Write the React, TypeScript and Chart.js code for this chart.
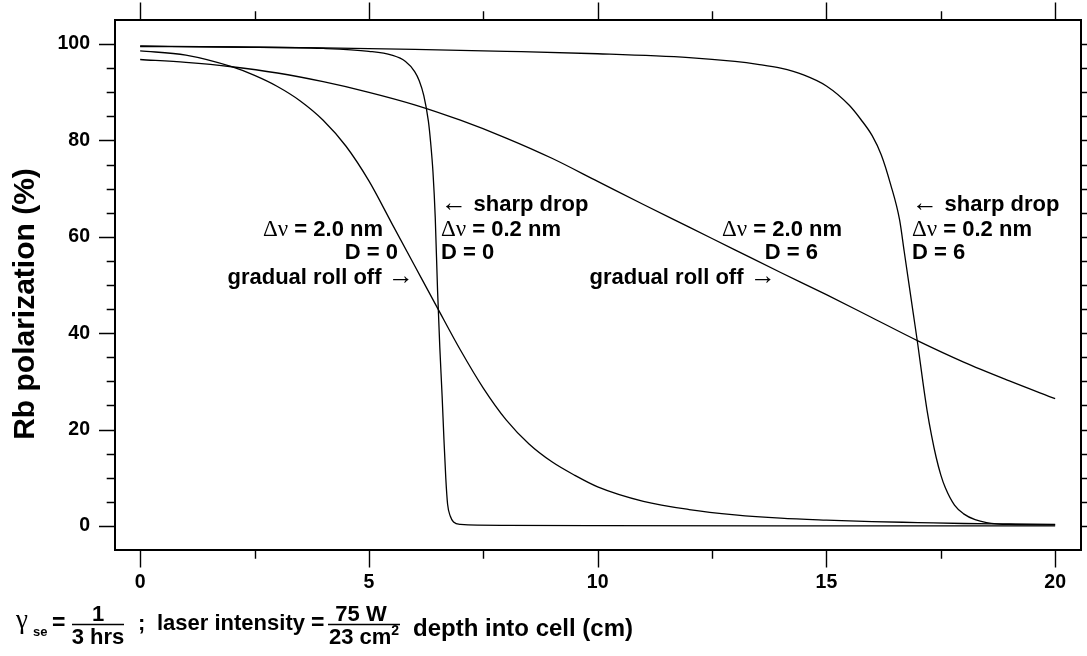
import React, { useEffect, useRef } from "react";
import { Chart, registerables } from "chart.js";
Chart.register(...registerables);

// Δν = 2.0 nm, D = 0 (gradual roll off)
const depthA = [0, 1, 2, 2.5, 3, 3.5, 4, 4.5, 5, 5.5, 6, 6.5, 7, 7.5, 8, 8.5, 9, 9.5, 10, 11, 12, 13, 14, 15, 16, 17, 18, 19, 20];
const polA = [98.6, 97.7, 95.3, 93.5, 91.2, 88.2, 84.2, 78.8, 71.6, 62.8, 54, 45.2, 36.5, 28.6, 22, 17, 13.3, 10.5, 8.1, 5.1, 3.4, 2.3, 1.6, 1.2, 0.9, 0.7, 0.5, 0.4, 0.3];
// Δν = 0.2 nm, D = 0 (sharp drop)
const depthB = [0, 2, 4, 5, 5.5, 5.8, 6, 6.1, 6.2, 6.3, 6.35, 6.4, 6.45, 6.5, 6.55, 6.6, 6.64, 6.68, 6.72, 6.78, 6.85, 7, 8, 10, 14, 20];
const polB = [99.6, 99.4, 99.1, 98.5, 97.7, 96.4, 94.3, 92.4, 89.3, 84, 79.5, 73.5, 64, 49, 37, 27, 18, 10, 4.5, 2, 0.8, 0.3, 0.1, 0.05, 0, 0];
// Δν = 2.0 nm, D = 6 (gradual roll off)
const depthC = [0, 1, 2, 3, 4, 5, 6, 7, 8, 9, 10, 11, 12, 13, 14, 15, 16, 17, 18, 19, 20];
const polC = [96.8, 96.2, 95.3, 94, 92.2, 90, 87.4, 84.2, 80.5, 76.3, 71.5, 66.7, 62, 57.3, 52.6, 48, 43.2, 38.4, 34, 30.1, 26.4];
// Δν = 0.2 nm, D = 6 (sharp drop)
const depthD = [0, 2, 4, 6, 8, 10, 12, 13, 13.5, 14, 14.5, 15, 15.5, 15.75, 16, 16.2, 16.4, 16.6, 16.7, 16.8, 16.9, 17, 17.1, 17.2, 17.3, 17.4, 17.5, 17.6, 17.8, 18, 18.25, 18.5, 19, 20];
const polD = [99.5, 99.4, 99.2, 98.9, 98.5, 98, 97.2, 96.4, 95.8, 95, 93.6, 91.3, 87.3, 84.4, 81, 77, 71, 63.5, 57, 50.5, 44, 37.5, 30.5, 24, 18.7, 14.2, 10.6, 7.9, 4.3, 2.5, 1.3, 0.7, 0.3, 0.2];

const xMajorTicks = [0, 5, 10, 15, 20];
const xTickLabels = ["0", "5", "10", "15", "20"];
const xMinorTicks = [2.5, 7.5, 12.5, 17.5];
const yMajorTicks = [0, 20, 40, 60, 80, 100];
const yTickLabels = ["0", "20", "40", "60", "80", "100"];
const yMinorTicks = [5, 10, 15, 25, 30, 35, 45, 50, 55, 65, 70, 75, 85, 90, 95];

const xTitle = "depth into cell (cm)";
const yTitle = "Rb polarization (%)";

const SANS = '"Liberation Sans", Arial, Helvetica, sans-serif';
const SYM = '"Liberation Serif", "DejaVu Serif", "Times New Roman", serif';
const bold = (s: number) => `bold ${s}px ${SANS}`;
const sym = (s: number) => `${s}px ${SYM}`;

type Seg = { t: string; f: string; dy?: number };

function drawRich(ctx: CanvasRenderingContext2D, segs: Seg[], x: number, y: number, align: "left" | "right" | "center") {
  ctx.save();
  ctx.textAlign = "left";
  let total = 0;
  const widths = segs.map((s) => {
    ctx.font = s.f;
    const w = ctx.measureText(s.t).width;
    total += w;
    return w;
  });
  let cx = align === "right" ? x - total : align === "center" ? x - total / 2 : x;
  segs.forEach((s, i) => {
    ctx.font = s.f;
    ctx.fillText(s.t, cx, y + (s.dy || 0));
    cx += widths[i];
  });
  ctx.restore();
}

const AN = 22;
const ARW = 26;
const annotations: { segs: Seg[]; x: number; y: number; align: "left" | "right" }[] = [
  { segs: [{ t: "Δν", f: sym(AN + 1) }, { t: " = 2.0 nm", f: bold(AN) }], x: 383, y: 230, align: "right" },
  { segs: [{ t: "D = 0", f: bold(AN) }], x: 398, y: 253, align: "right" },
  { segs: [{ t: "gradual roll off", f: bold(AN) }, { t: " →", f: sym(ARW), dy: -1 }], x: 414, y: 278, align: "right" },
  { segs: [{ t: "← ", f: sym(ARW), dy: -1 }, { t: "sharp drop", f: bold(AN) }], x: 441, y: 205, align: "left" },
  { segs: [{ t: "Δν", f: sym(AN + 1) }, { t: " = 0.2 nm", f: bold(AN) }], x: 441, y: 230, align: "left" },
  { segs: [{ t: "D = 0", f: bold(AN) }], x: 441, y: 253, align: "left" },
  { segs: [{ t: "Δν", f: sym(AN + 1) }, { t: " = 2.0 nm", f: bold(AN) }], x: 842, y: 230, align: "right" },
  { segs: [{ t: "D = 6", f: bold(AN) }], x: 818, y: 253, align: "right" },
  { segs: [{ t: "gradual roll off", f: bold(AN) }, { t: " →", f: sym(ARW), dy: -1 }], x: 776, y: 278, align: "right" },
  { segs: [{ t: "← ", f: sym(ARW), dy: -1 }, { t: "sharp drop", f: bold(AN) }], x: 912, y: 205, align: "left" },
  { segs: [{ t: "Δν", f: sym(AN + 1) }, { t: " = 0.2 nm", f: bold(AN) }], x: 912, y: 230, align: "left" },
  { segs: [{ t: "D = 6", f: bold(AN) }], x: 912, y: 253, align: "left" },
];

const framePlugin = {
  id: "framePlugin",
  beforeDraw(chart: any) {
    const ctx = chart.ctx as CanvasRenderingContext2D;
    ctx.save();
    ctx.fillStyle = "#fff";
    ctx.fillRect(0, 0, chart.width, chart.height);
    ctx.restore();
  },
  afterDraw(chart: any) {
    const ctx = chart.ctx as CanvasRenderingContext2D;
    const { left, right, top, bottom } = chart.chartArea;
    const xs = chart.scales.x;
    const ys = chart.scales.y;
    ctx.save();
    ctx.strokeStyle = "#000";
    ctx.fillStyle = "#000";
    // frame
    ctx.lineWidth = 2;
    ctx.strokeRect(left, top, right - left, bottom - top);
    // ticks
    ctx.lineWidth = 1.4;
    ctx.beginPath();
    const xt = (v: number, len: number) => {
      const p = Math.round(xs.getPixelForValue(v)) + 0.5;
      ctx.moveTo(p, bottom);
      ctx.lineTo(p, bottom + len);
      ctx.moveTo(p, top);
      ctx.lineTo(p, top - len);
    };
    const yt = (v: number, len: number) => {
      const p = Math.round(ys.getPixelForValue(v)) + 0.5;
      ctx.moveTo(left, p);
      ctx.lineTo(left - len, p);
      ctx.moveTo(right, p);
      ctx.lineTo(right + len, p);
    };
    xMajorTicks.forEach((v) => xt(v, 17.5));
    xMinorTicks.forEach((v) => xt(v, 8.7));
    yMajorTicks.forEach((v) => yt(v, 16));
    yMinorTicks.forEach((v) => yt(v, 8.3));
    ctx.stroke();
    // tick labels
    ctx.font = bold(19.5);
    ctx.textBaseline = "middle";
    ctx.textAlign = "center";
    xMajorTicks.forEach((v, i) => ctx.fillText(xTickLabels[i], xs.getPixelForValue(v), 583));
    ctx.textAlign = "right";
    yMajorTicks.forEach((v, i) => ctx.fillText(yTickLabels[i], 90, ys.getPixelForValue(v)));
    // axis titles
    ctx.font = bold(24);
    ctx.textAlign = "center";
    ctx.fillText(xTitle, 523, 629);
    ctx.save();
    ctx.translate(26, 304);
    ctx.rotate(-Math.PI / 2);
    ctx.font = bold(30);
    ctx.fillText(yTitle, 0, 0);
    ctx.restore();
    // annotations
    ctx.textBaseline = "middle";
    annotations.forEach((a) => drawRich(ctx, a.segs, a.x, a.y, a.align));
    // bottom-left formula
    ctx.textBaseline = "alphabetic";
    drawRich(ctx, [{ t: "γ", f: sym(27) }], 16, 628, "left");
    drawRich(ctx, [{ t: "se", f: bold(13) }], 33, 636, "left");
    drawRich(ctx, [{ t: "=", f: bold(23) }], 52, 630, "left");
    drawRich(ctx, [{ t: "1", f: bold(22) }], 98, 621, "center");
    drawRich(ctx, [{ t: "3 hrs", f: bold(22) }], 98, 644, "center");
    drawRich(ctx, [{ t: ";", f: bold(22) }], 138, 630, "left");
    drawRich(ctx, [{ t: "laser intensity", f: bold(22) }], 157, 630, "left");
    drawRich(ctx, [{ t: "=", f: bold(23) }], 311, 630, "left");
    drawRich(ctx, [{ t: "75 W", f: bold(22) }], 361, 621, "center");
    drawRich(ctx, [{ t: "23 cm", f: bold(22) }, { t: "2", f: bold(14), dy: -9 }], 364, 644, "center");
    ctx.lineWidth = 1.6;
    ctx.beginPath();
    ctx.moveTo(72, 624.5);
    ctx.lineTo(124, 624.5);
    ctx.moveTo(328, 624.5);
    ctx.lineTo(400, 624.5);
    ctx.stroke();
    ctx.restore();
  },
};

export default function App() {
  const ref = useRef<HTMLCanvasElement | null>(null);
  useEffect(() => {
    if (!ref.current) return;
    const mk = (xs: number[], ys: number[], label: string) => ({
      label,
      data: xs.map((x, i) => ({ x, y: ys[i] })),
      borderColor: "#000",
      borderWidth: 1.3,
      pointRadius: 0,
      fill: false,
      cubicInterpolationMode: "monotone" as const,
    });
    const chart = new Chart(ref.current, {
      type: "line",
      data: {
        datasets: [
          mk(depthA, polA, "Δν = 2.0 nm, D = 0"),
          mk(depthB, polB, "Δν = 0.2 nm, D = 0"),
          mk(depthC, polC, "Δν = 2.0 nm, D = 6"),
          mk(depthD, polD, "Δν = 0.2 nm, D = 6"),
        ],
      },
      options: {
        responsive: false,
        animation: false,
        devicePixelRatio: 1,
        layout: { padding: { left: 115, right: 6, top: 20, bottom: 106 } },
        plugins: { legend: { display: false }, tooltip: { enabled: false } },
        scales: {
          x: { type: "linear", min: -0.55, max: 20.565, display: false },
          y: { type: "linear", min: -5, max: 105, display: false },
        },
      },
      plugins: [framePlugin],
    });
    return () => chart.destroy();
  }, []);
  return (
    <div style={{ position: "absolute", left: 0, top: 0, width: 1087, height: 656, background: "#fff" }}>
      <canvas ref={ref} width={1087} height={656} style={{ display: "block", width: 1087, height: 656 }} />
    </div>
  );
}
